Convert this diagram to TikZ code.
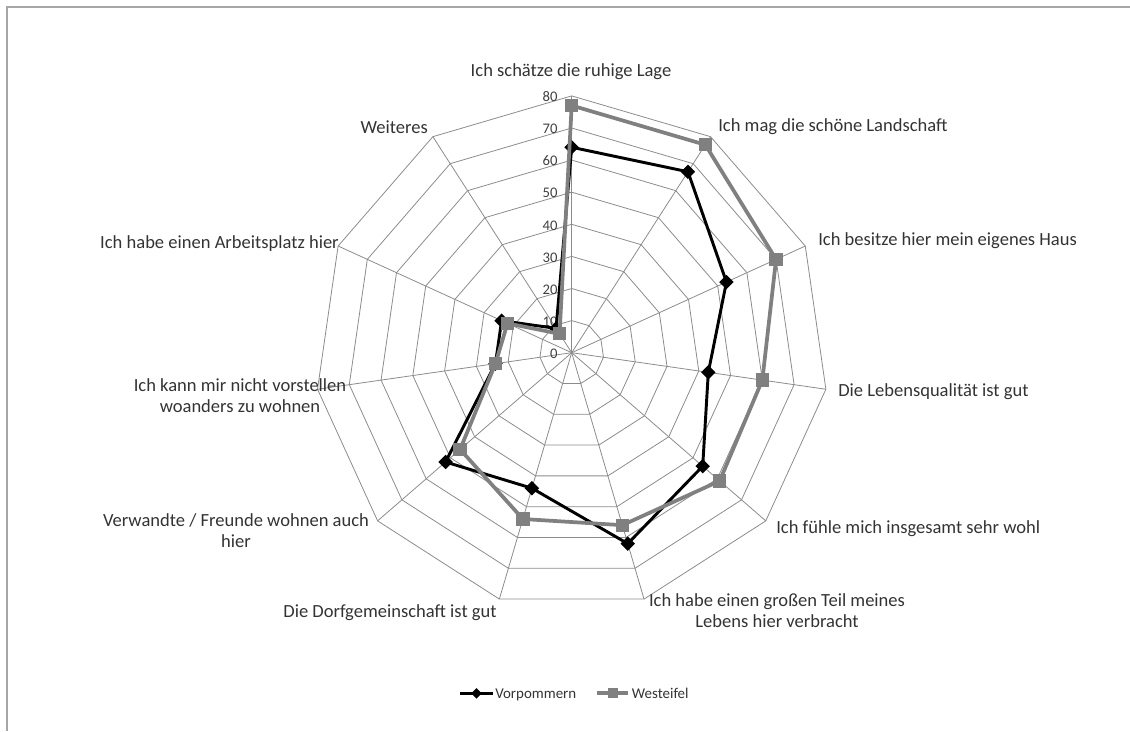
\documentclass[tikz,border=0pt]{standalone}
\usepackage{fontspec}
\setmainfont{Carlito}
\usetikzlibrary{shapes.geometric, positioning, calc}

\begin{document}
\begin{tikzpicture}[
    x=0.75pt, y=0.75pt,
    gridline/.style={draw=black!45, line width=0.6pt},
    catlabel/.style={font=\fontsize{13.9}{15.8}\selectfont, text=black!80, inner sep=0pt, align=center},
    ticklabel/.style={font=\fontsize{11}{13}\selectfont, text=black!75, anchor=east, inner sep=0pt},
    leglabel/.style={font=\fontsize{11.2}{13}\selectfont, text=black!80, anchor=base west, inner sep=0pt},
    vline/.style={line width=2.2pt, draw=black, line join=round},
    wline/.style={line width=2.8pt, draw=black!50, line join=round},
    vmark/.style={diamond, fill=black, inner sep=0pt, minimum size=11pt},
    wmark/.style={rectangle, fill=black!50, inner sep=0pt, minimum size=10pt}
]
\useasboundingbox (-571.7,-378.3) rectangle (558.3,352.7);

% outer frame (top and left only)
\draw[black!35, line width=0.9pt] (-564.7,-378.3) -- (-564.7,345.7) -- (558.3,345.7);

% web: rings and spokes
\foreach \k in {1,...,8}
  \draw[gridline] (90:{\k*32.1}) \foreach \i in {1,...,10} { -- ({90-\i*360/11}:{\k*32.1}) } -- cycle;
\foreach \i in {0,...,10}
  \draw[gridline] (0,0) -- ({90-\i*360/11}:{8*32.1});

% axis values
\foreach \t [count=\k from 0] in {0,10,...,80}
  \node[ticklabel] (tick\k) at (-14,{\k*32.1-1}) {\t};

% categories
\node[catlabel] (cat0) at (-0.7,280.7) {Ich schätze die ruhige Lage};
\node[catlabel, anchor=west] (cat1) at (146.3,225.7) {Ich mag die schöne Landschaft};
\node[catlabel, anchor=west] (cat2) at (246.3,111.7) {Ich besitze hier mein eigenes Haus};
\node[catlabel, anchor=west] (cat3) at (266.3,-39.3) {Die Lebensqualität ist gut};
\node[catlabel, anchor=west] (cat4) at (204.3,-176.3) {Ich fühle mich insgesamt sehr wohl};
\node[catlabel] (cat5) at (205.3,-257.8) {Ich habe einen großen Teil meines\\Lebens hier verbracht};
\node[catlabel] (cat6) at (-181.7,-260) {Die Dorfgemeinschaft ist gut};
\node[catlabel] (cat7) at (-335.7,-177.8) {Verwandte / Freunde wohnen auch\\hier};
\node[catlabel] (cat8) at (-331.7,-42.8) {Ich kann mir nicht vorstellen\\woanders zu wohnen};
\node[catlabel, anchor=east] (cat9) at (-232.7,108.7) {Ich habe einen Arbeitsplatz hier};
\node[catlabel, anchor=east] (cat10) at (-143.7,225.7) {Weiteres};

% series Vorpommern
\foreach \val [count=\i from 0] in {64,67,53,43,54,62,44,52,24,24,9}
  \coordinate (v\i) at ({90-\i*360/11}:{\val*3.21});
\draw[vline] (v0) \foreach \i in {1,...,10} { -- (v\i) } -- cycle;
\foreach \i in {0,...,10}
  \node[vmark] (vm\i) at (v\i) {};

% series Westeifel
\foreach \val [count=\i from 0] in {77,77,70,60,61,56,54,46,24,22,7}
  \coordinate (w\i) at ({90-\i*360/11}:{\val*3.21});
\draw[wline] (w0) \foreach \i in {1,...,10} { -- (w\i) } -- cycle;
\foreach \i in {0,...,10}
  \node[wmark] (wm\i) at (w\i) {};

% legend
\coordinate (vlegA) at (-111.7,-340.6);
\coordinate (vlegB) at (-78.7,-340.6);
\draw[vline] (vlegA) -- (vlegB);
\node[vmark, minimum size=8pt] (vlegm) at ($(vlegA)!0.5!(vlegB)$) {};
\node[leglabel] (vleg) at (-76.7,-345.3) {Vorpommern};
\coordinate (wlegA) at (25,-340.6);
\coordinate (wlegB) at (56.6,-340.6);
\draw[wline] (wlegA) -- (wlegB);
\node[wmark, minimum size=7.5pt] (wlegm) at ($(wlegA)!0.5!(wlegB)$) {};
\node[leglabel] (wleg) at (60,-345.3) {Westeifel};
\end{tikzpicture}
\end{document}
